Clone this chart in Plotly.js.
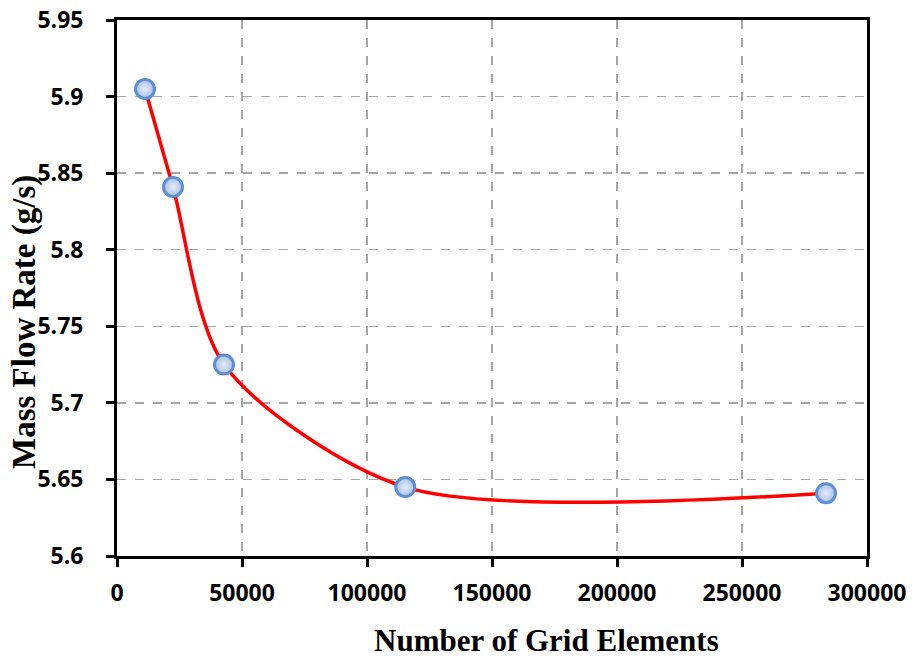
<!DOCTYPE html>
<html>
<head>
<meta charset="utf-8">
<script src="https://cdn.plot.ly/plotly-3.0.1.min.js"></script>
<style>
  html, body { margin: 0; padding: 0; background: #ffffff; }
  #chart { width: 914px; height: 658px; }
</style>
</head>
<body>
<div id="chart"></div>
<script>
// Grid-independence study: mass flow rate versus mesh size
const gridElements = [11200, 22400, 42800, 115300, 283600];
const massFlowRate = [5.905, 5.841, 5.725, 5.645, 5.641];
const xTitle = 'Number of Grid Elements';
const yTitle = 'Mass Flow Rate (g/s)';

const serifBold = { family: 'Liberation Serif, Times New Roman, serif', color: '#000000', weight: 'bold' };

function tickFont() {
  return { family: 'Open Sans, sans-serif', size: 23, color: '#000000', weight: 'bold' };
}

const trace = {
  x: gridElements,
  y: massFlowRate,
  type: 'scatter',
  mode: 'lines+markers',
  line: { color: '#ff0000', width: 3.5, shape: 'spline', smoothing: 0.8 },
  marker: {
    size: 19,
    color: '#a9bfe6',
    gradient: { type: 'radial', color: '#e6edf9' },
    line: { color: '#5b8fd6', width: 3 }
  },
  hoverinfo: 'x+y'
};

function axisStyle() {
  return {
    showline: true,
    linecolor: '#000000',
    linewidth: 3,
    mirror: true,
    ticks: 'outside',
    ticklen: 8,
    tickwidth: 3,
    tickcolor: '#000000',
    showgrid: true,
    gridcolor: '#a6a6a6',
    gridwidth: 1.5,
    griddash: 'dash',
    zeroline: false,
    tickfont: tickFont()
  };
}

const layout = {
  width: 914,
  height: 658,
  margin: { l: 117, r: 47, t: 20, b: 102 },
  paper_bgcolor: '#ffffff',
  plot_bgcolor: '#ffffff',
  showlegend: false,
  xaxis: Object.assign(axisStyle(), {
    range: [0, 300000],
    dtick: 50000,
    tick0: 0,
    tickformat: 'd',
    ticklabelstandoff: 6
  }),
  yaxis: Object.assign(axisStyle(), {
    range: [5.6, 5.95],
    dtick: 0.05,
    tick0: 5.6,
    // non-breaking spaces keep a gap between the labels and the tick marks
    ticksuffix: '\u00a0\u00a0\u00a0'
  }),
  annotations: [
    {
      text: xTitle,
      xref: 'paper', yref: 'paper',
      x: 0.572, y: -0.157,
      xanchor: 'center', yanchor: 'middle',
      showarrow: false,
      font: Object.assign({ size: 31 }, serifBold)
    },
    {
      text: yTitle,
      xref: 'paper', yref: 'paper',
      x: -0.1227, y: 0.4366,
      xanchor: 'center', yanchor: 'middle',
      textangle: -90,
      showarrow: false,
      font: Object.assign({ size: 33 }, serifBold)
    }
  ]
};

Plotly.newPlot('chart', [trace], layout, { displayModeBar: false, staticPlot: true });
</script>
</body>
</html>
